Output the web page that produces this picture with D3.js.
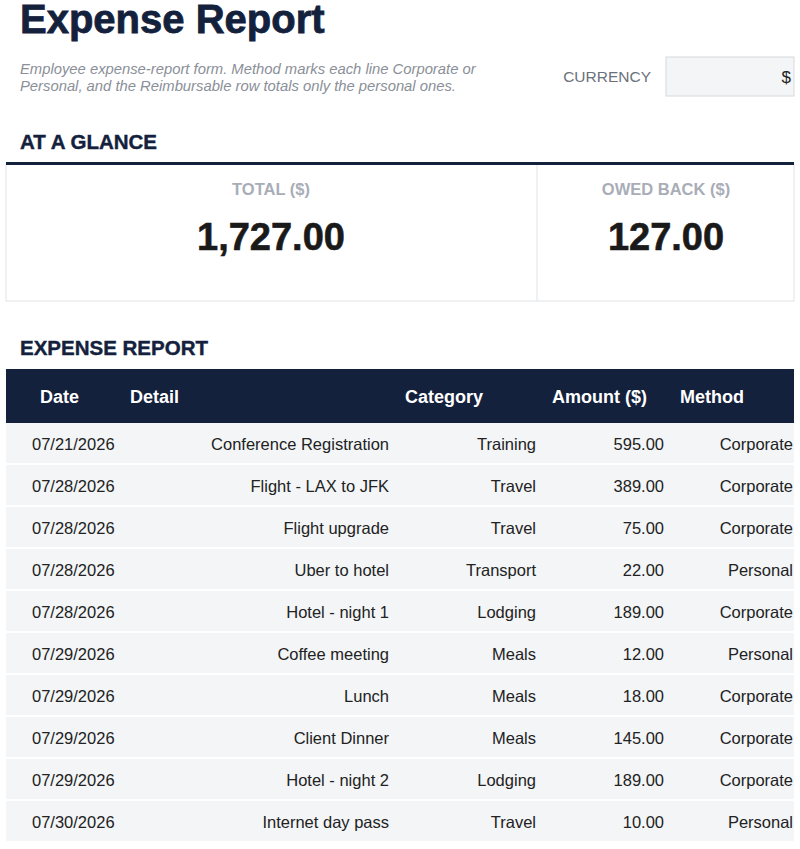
<!DOCTYPE html><html><head><meta charset="utf-8"><script src="https://cdn.jsdelivr.net/npm/d3@7"></script>
<style>body{margin:0;background:#fff}text{font-family:"Liberation Sans",Arial,sans-serif}</style></head><body>
<script>
const dates=["07/21/2026","07/28/2026","07/28/2026","07/28/2026","07/28/2026","07/29/2026","07/29/2026","07/29/2026","07/29/2026","07/30/2026"];
const details=["Conference Registration","Flight - LAX to JFK","Flight upgrade","Uber to hotel","Hotel - night 1","Coffee meeting","Lunch","Client Dinner","Hotel - night 2","Internet day pass"];
const categories=["Training","Travel","Travel","Transport","Lodging","Meals","Meals","Meals","Lodging","Travel"];
const amounts=[595,389,75,22,189,12,18,145,189,10];
const methods=["Corporate","Corporate","Corporate","Personal","Corporate","Personal","Corporate","Corporate","Corporate","Personal"];
const headers=["Date","Detail","Category","Amount ($)","Method"];
const glanceLabels=["TOTAL ($)","OWED BACK ($)"];
const glanceValues=[1727,127];
const navy="#14213d";
const svg=d3.select("body").append("svg").attr("width",800).attr("height",849);
const fmt=d3.format(",.2f");
svg.append("text").attr("x",20).attr("y",33).attr("font-size",40).attr("font-weight","900").attr("fill",navy).attr("stroke",navy).attr("stroke-width",0.8).text("Expense Report");
const sub=svg.append("text").attr("font-size",14.8).attr("font-style","italic").attr("fill","#8a8f98");
sub.append("tspan").attr("x",20).attr("y",74).text("Employee expense-report form. Method marks each line Corporate or");
sub.append("tspan").attr("x",20).attr("y",91).text("Personal, and the Reimbursable row totals only the personal ones.");
svg.append("text").attr("x",651).attr("y",82).attr("text-anchor","end").attr("font-size",15.5).attr("fill","#6b717b").text("CURRENCY");
svg.append("rect").attr("x",666).attr("y",57).attr("width",128).attr("height",39).attr("fill","#f3f5f7").attr("stroke","#d6d9de");
svg.append("text").attr("x",791).attr("y",83).attr("text-anchor","end").attr("font-size",17).attr("fill","#222").text("$");
svg.append("text").attr("x",20).attr("y",149).attr("font-size",20.5).attr("font-weight","bold").attr("fill",navy).attr("stroke",navy).attr("stroke-width",0.4).text("AT A GLANCE");
svg.append("rect").attr("x",6).attr("y",164).attr("width",788).attr("height",137).attr("fill","#fff").attr("stroke","#e0e3e7");
svg.append("line").attr("x1",537).attr("x2",537).attr("y1",164).attr("y2",301).attr("stroke","#e0e3e7");
svg.append("rect").attr("x",6).attr("y",162).attr("width",788).attr("height",3).attr("fill",navy);
[271,666].forEach((cx,i)=>{
 svg.append("text").attr("x",cx).attr("y",195).attr("text-anchor","middle").attr("font-size",16.5).attr("font-weight","bold").attr("fill","#a8adb7").text(glanceLabels[i]);
 svg.append("text").attr("x",cx).attr("y",250).attr("text-anchor","middle").attr("font-size",38).attr("font-weight","bold").attr("fill","#1a1a1a").attr("stroke","#1a1a1a").attr("stroke-width",0.6).text(fmt(glanceValues[i]));
});
svg.append("text").attr("x",20).attr("y",355).attr("font-size",20.5).attr("font-weight","bold").attr("fill",navy).attr("stroke",navy).attr("stroke-width",0.4).text("EXPENSE REPORT");
svg.append("rect").attr("x",6).attr("y",369).attr("width",788).attr("height",54).attr("fill",navy);
const hx=[40,130,405,552,680];
headers.forEach((h,i)=>svg.append("text").attr("x",hx[i]).attr("y",403).attr("font-size",18).attr("font-weight","bold").attr("fill","#fff").text(h));
const y=d3.scaleBand().domain(d3.range(dates.length)).range([423,423+42*dates.length]);
const g=svg.selectAll("g.row").data(d3.range(dates.length)).join("g").attr("transform",i=>`translate(0,${y(i)})`);
g.append("rect").attr("x",6).attr("width",788).attr("height",y.bandwidth()-2).attr("fill","#f3f5f7");
const cols=[[32,"start",i=>dates[i]],[389,"end",i=>details[i]],[536,"end",i=>categories[i]],[664,"end",i=>fmt(amounts[i])],[793,"end",i=>methods[i]]];
cols.forEach(([x,a,f])=>g.append("text").attr("x",x).attr("y",27).attr("text-anchor",a).attr("font-size",16.5).attr("fill","#222").text(f));
</script></body></html>
